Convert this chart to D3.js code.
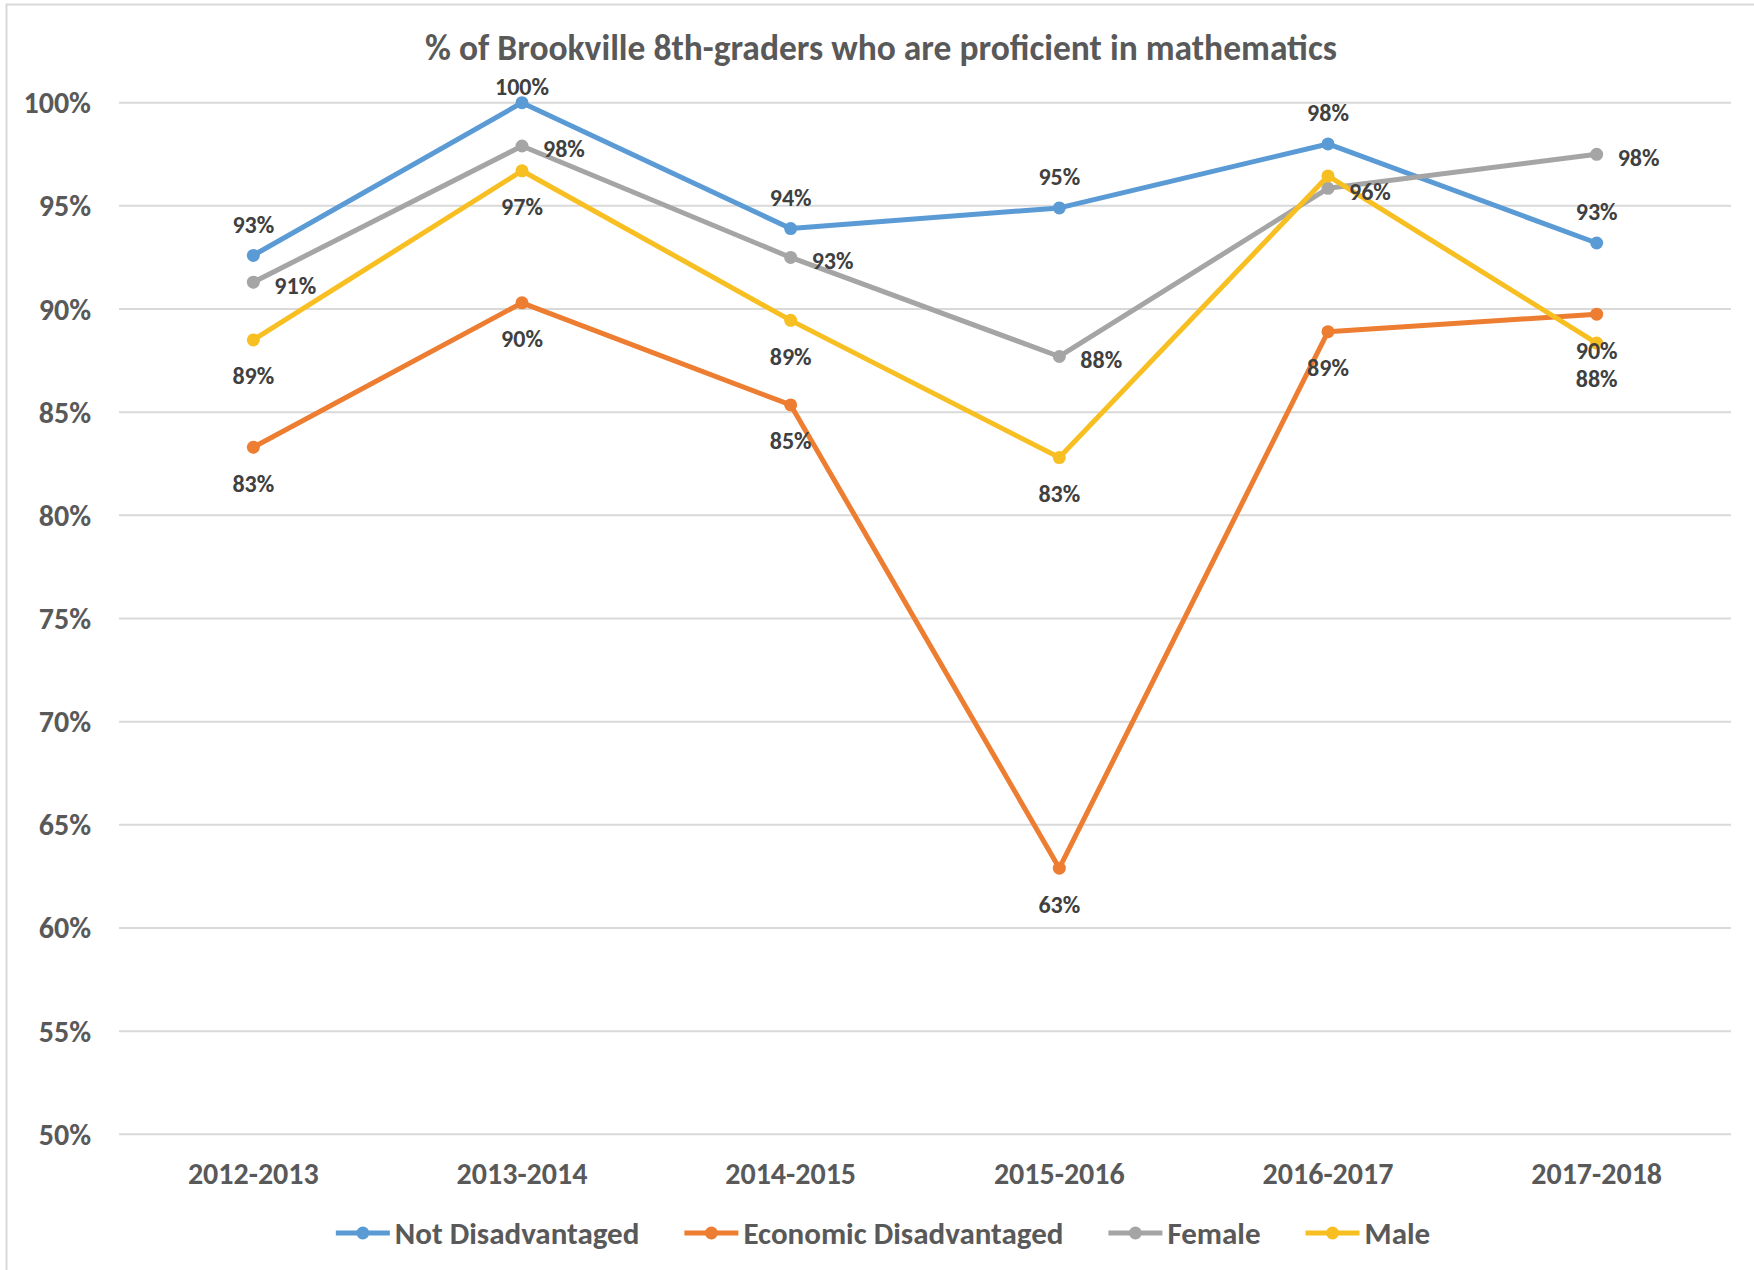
<!DOCTYPE html>
<html>
<head>
    <meta charset="utf-8">
    <title>% of Brookville 8th-graders who are proficient in mathematics</title>
    <script src="https://d3js.org/d3.v7.min.js"></script>
    <style>
        body { margin: 0; background: #fff; }
        svg { display: block; font-family: Calibri, Carlito, Lato, sans-serif; font-weight: bold; }
        .grid line { stroke: #d9d9d9; stroke-width: 2px; }
        .axis-label { fill: #595959; font-size: 30px; }
        .legend-label { fill: #595959; font-size: 31px; }
        .data-label { fill: #404040; font-size: 24px; }
        .title { fill: #595959; font-size: 35.5px; }
    </style>
</head>
<body>
<div id="chart"></div>
<script>
    // data
    const years = ["2012-2013", "2013-2014", "2014-2015", "2015-2016", "2016-2017", "2017-2018"];
    const notDisadvantaged = [92.6, 100, 93.9, 94.9, 98.0, 93.2];
    const economicDisadvantaged = [83.3, 90.3, 85.35, 62.9, 88.9, 89.75];
    const female = [91.3, 97.9, 92.5, 87.7, 95.85, 97.5];
    const male = [88.5, 96.7, 89.45, 82.8, 96.45, 88.35];
    const yTicks = [50, 55, 60, 65, 70, 75, 80, 85, 90, 95, 100];

    const series = [
        { name: "Not Disadvantaged", values: notDisadvantaged, color: "#5b9bd5", pos: "above" },
        { name: "Economic Disadvantaged", values: economicDisadvantaged, color: "#ed7d31", pos: "below" },
        { name: "Female", values: female, color: "#a5a5a5", pos: "right" },
        { name: "Male", values: male, color: "#f8bf22", pos: "below" }
    ];
    // Excel hid this one behind the others
    const hiddenLabels = ["Male|2016-2017"];

    const W = 1754, H = 1270;
    const svg = d3.select("#chart").append("svg")
        .attr("width", W)
        .attr("height", H);

    // chart area frame (only top and left edges visible in the picture)
    svg.append("rect")
        .attr("x", 6.5).attr("y", 4.5)
        .attr("width", W + 20).attr("height", H + 20)
        .attr("fill", "none")
        .attr("stroke", "#d9d9d9")
        .attr("stroke-width", 2);

    const x = d3.scaleBand().domain(years).range([119, 1731]);
    const cx = d => x(d) + x.bandwidth() / 2;
    const y = d3.scaleLinear().domain([50, 100]).range([1134.3, 102.7]);

    // title
    svg.append("text")
        .attr("class", "title")
        .attr("x", 881).attr("y", 60)
        .attr("text-anchor", "middle")
        .text("% of Brookville 8th-graders who are proficient in mathematics");

    // gridlines
    svg.append("g").attr("class", "grid")
        .selectAll("line").data(yTicks).join("line")
        .attr("x1", 119).attr("x2", 1731)
        .attr("y1", d => y(d)).attr("y2", d => y(d));

    // y labels
    svg.append("g").selectAll("text").data(yTicks).join("text")
        .attr("class", "axis-label")
        .attr("x", 91).attr("y", d => y(d))
        .attr("dy", "0.35em")
        .attr("text-anchor", "end")
        .text(d => d + "%");

    // x labels
    svg.append("g").selectAll("text").data(years).join("text")
        .attr("class", "axis-label")
        .attr("x", d => cx(d)).attr("y", 1173)
        .attr("dy", "0.35em")
        .attr("text-anchor", "middle")
        .text(d => d);

    const line = d3.line()
        .x((d, i) => cx(years[i]))
        .y(d => y(d));

    // lines and markers
    series.forEach(function(s) {
        const g = svg.append("g");
        g.append("path")
            .datum(s.values)
            .attr("d", line)
            .attr("fill", "none")
            .attr("stroke", s.color)
            .attr("stroke-width", 5)
            .attr("stroke-linejoin", "round");
        g.selectAll("circle").data(s.values).join("circle")
            .attr("cx", (d, i) => cx(years[i]))
            .attr("cy", d => y(d))
            .attr("r", 6.5)
            .attr("fill", s.color);
    });

    // data labels
    series.forEach(function(s) {
        svg.append("g").selectAll("text")
            .data(s.values.map((v, i) => ({ v: v, year: years[i] })))
            .join("text")
            .filter(d => hiddenLabels.indexOf(s.name + "|" + d.year) < 0)
            .attr("class", "data-label")
            .attr("x", d => s.pos === "right" ? cx(d.year) + 21 : cx(d.year))
            .attr("y", function(d) {
                const py = y(d.v);
                if (s.pos === "above") return Math.max(py - 31, 87);
                if (s.pos === "below") return py + 36;
                return py + 3;
            })
            .attr("dy", "0.35em")
            .attr("text-anchor", s.pos === "right" ? "start" : "middle")
            .text(d => Math.round(d.v) + "%");
    });

    // legend
    const legend = svg.append("g");
    let lx = 0;
    series.forEach(function(s) {
        const item = legend.append("g").attr("transform", "translate(" + lx + ",0)");
        item.append("line")
            .attr("x1", 0).attr("x2", 54)
            .attr("stroke", s.color).attr("stroke-width", 5);
        item.append("circle").attr("cx", 27).attr("r", 6.5).attr("fill", s.color);
        const t = item.append("text")
            .attr("class", "legend-label")
            .attr("x", 59).attr("dy", "0.35em")
            .text(s.name);
        lx += 59 + t.node().getComputedTextLength() + 45;
    });
    const legendWidth = lx - 45;
    legend.attr("transform", "translate(" + (883 - legendWidth / 2) + ",1233)");
</script>
</body>
</html>
